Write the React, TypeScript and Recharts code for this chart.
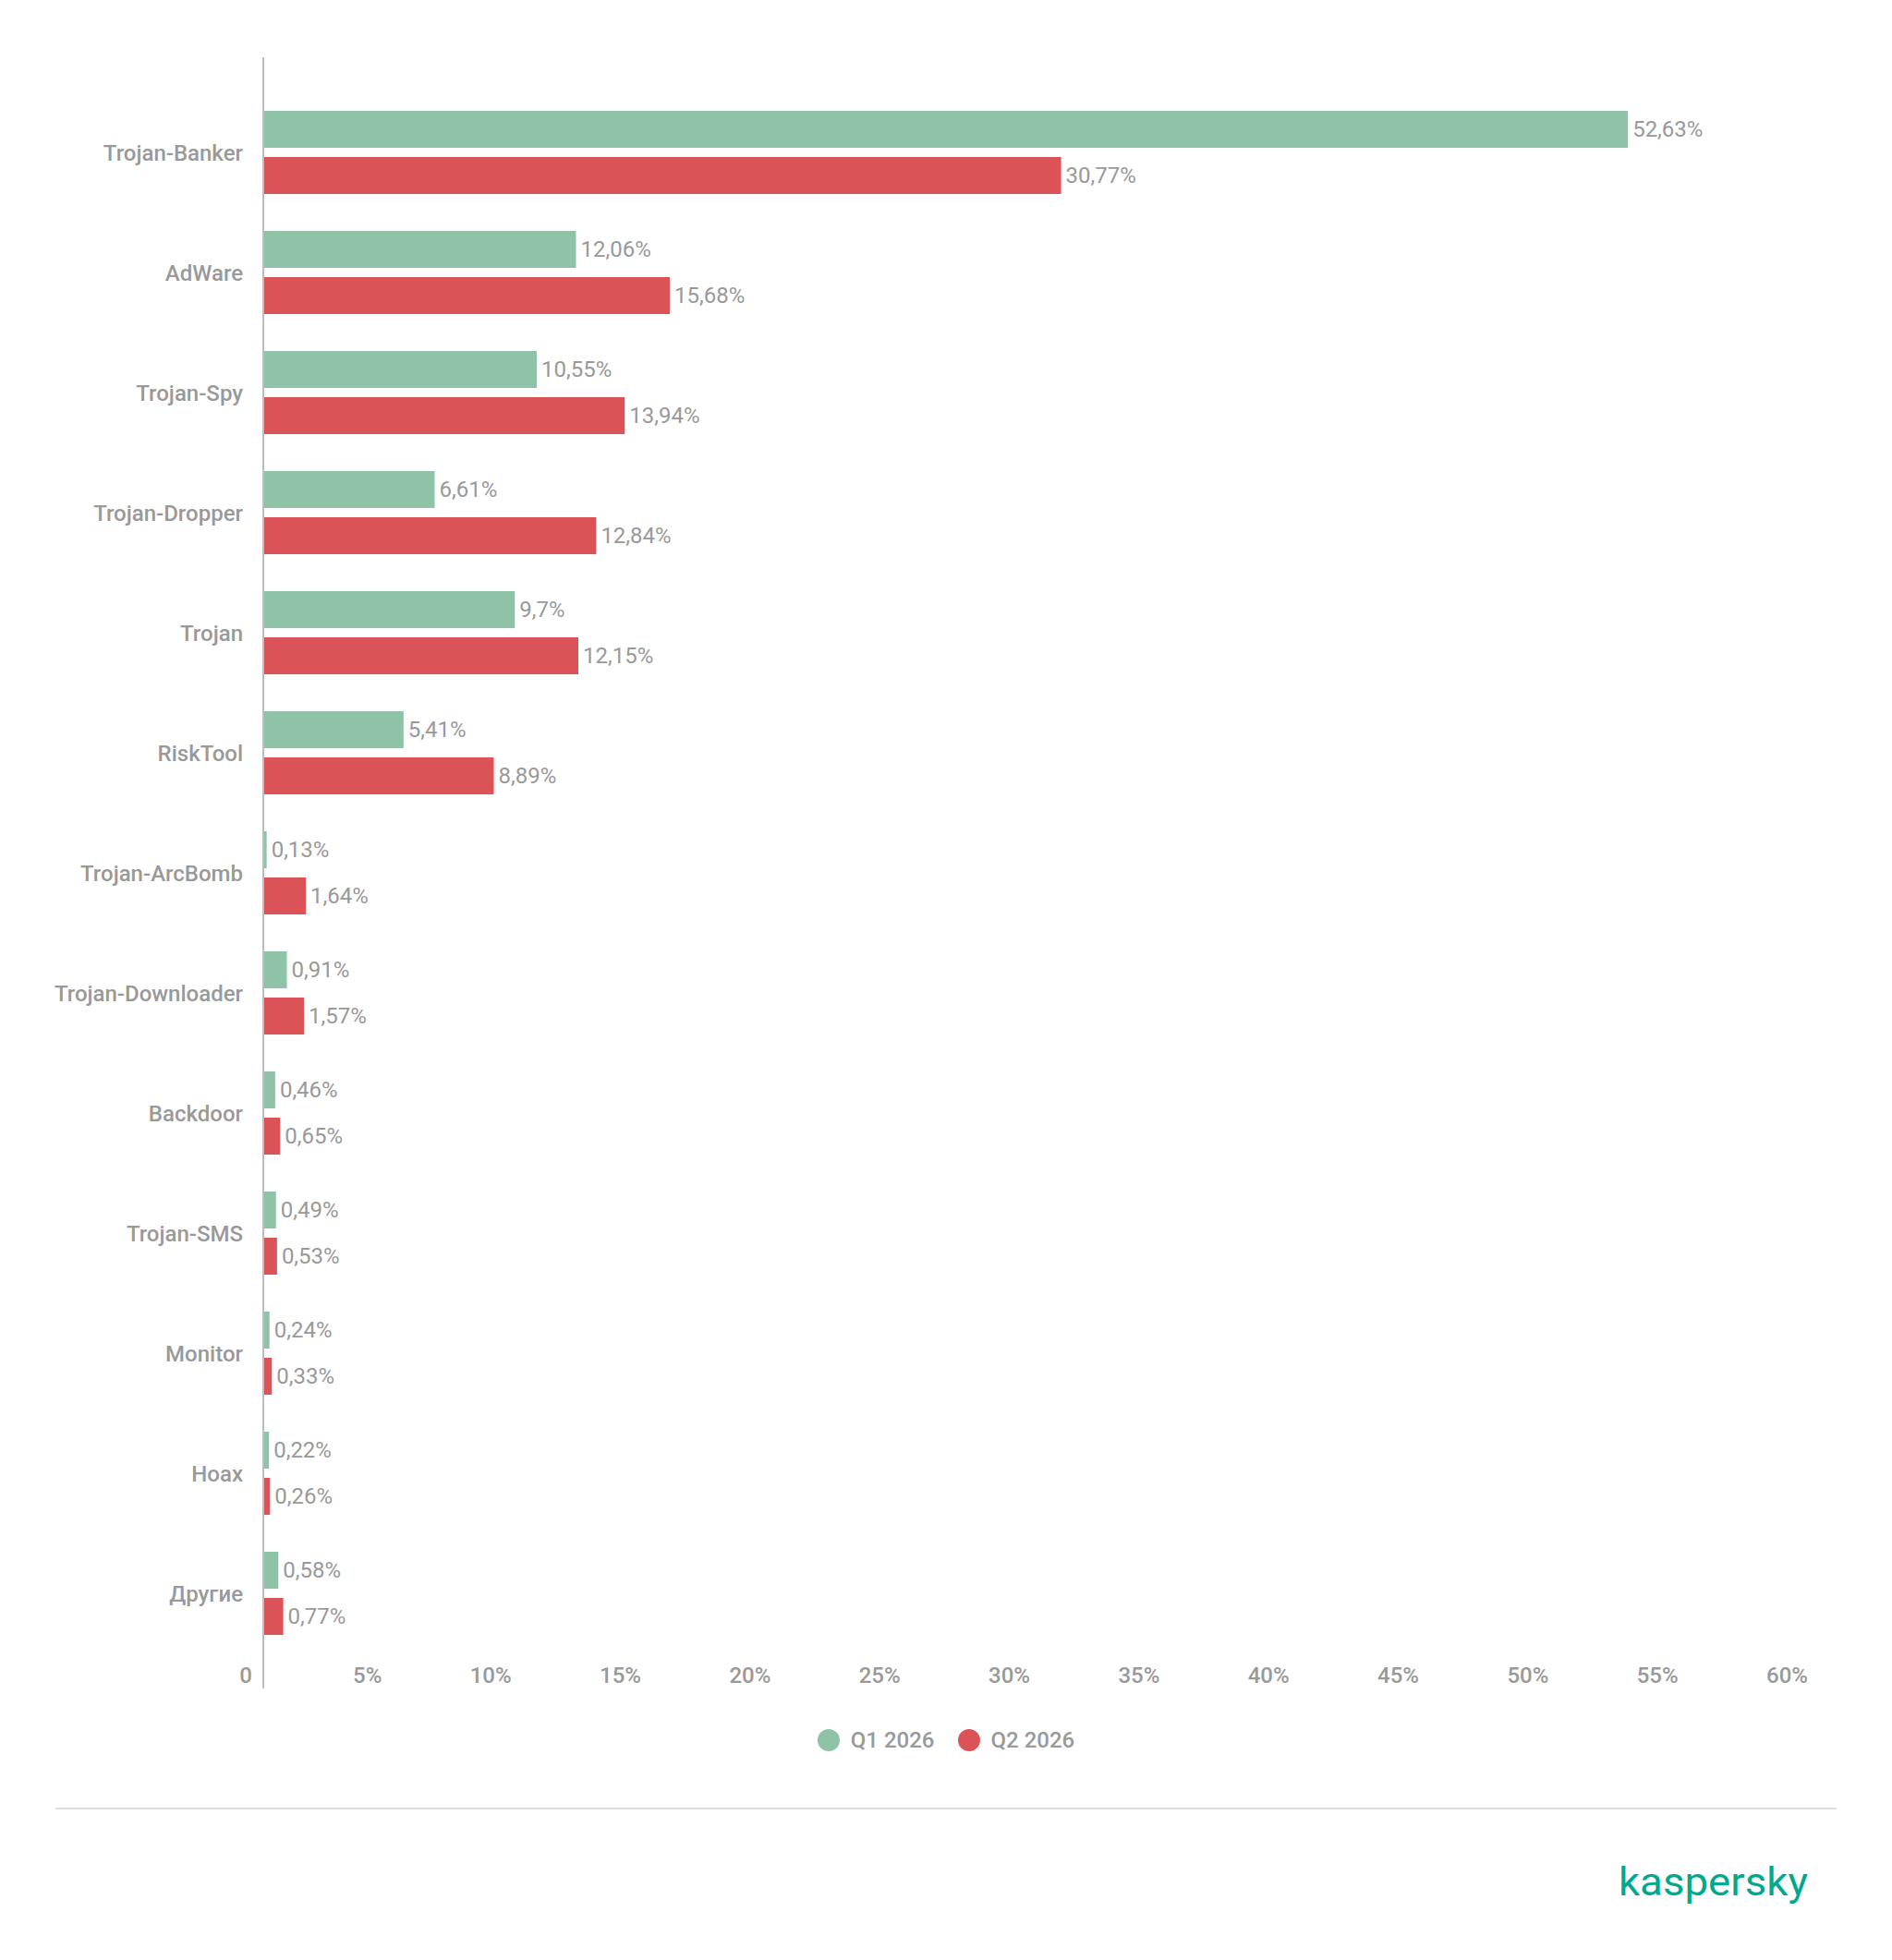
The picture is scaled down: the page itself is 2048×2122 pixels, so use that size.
import React from 'react';
import { BarChart, Bar, XAxis, YAxis, Legend, LabelList } from 'recharts';

const categories = [
  'Trojan-Banker',
  'AdWare',
  'Trojan-Spy',
  'Trojan-Dropper',
  'Trojan',
  'RiskTool',
  'Trojan-ArcBomb',
  'Trojan-Downloader',
  'Backdoor',
  'Trojan-SMS',
  'Monitor',
  'Hoax',
  'Другие',
];
const q1Values = [52.63, 12.06, 10.55, 6.61, 9.7, 5.41, 0.13, 0.91, 0.46, 0.49, 0.24, 0.22, 0.58];
const q2Values = [30.77, 15.68, 13.94, 12.84, 12.15, 8.89, 1.64, 1.57, 0.65, 0.53, 0.33, 0.26, 0.77];
const xTicks = [0, 5, 10, 15, 20, 25, 30, 35, 40, 45, 50, 55, 60];
const seriesNames = ['Q1 2026', 'Q2 2026'];
const seriesColors = ['#8fc3a8', '#dc5357'];

const data = categories.map((name, i) => ({ name, q1: q1Values[i], q2: q2Values[i] }));

const FONT = 'Roboto, "Noto Sans", sans-serif';
const GRAY = '#999999';

const fmtValue = (v: any) => `${String(v).replace('.', ',')}%`;

const XTick = (props: any) => {
  const { x, y, payload } = props;
  const v = payload.value;
  return (
    <text x={x - 12} y={y - 6} textAnchor="end" fill={GRAY} fontSize={24} fontWeight={500} fontFamily={FONT}>
      {v === 0 ? '0' : `${v}%`}
    </text>
  );
};

const YTick = (props: any) => {
  const { x, y, payload } = props;
  return (
    <text x={x - 22} y={y} dy="0.355em" textAnchor="end" fill={GRAY} fontSize={24} fontWeight={500} fontFamily={FONT}>
      {payload.value}
    </text>
  );
};

const LegendContent = () => (
  <div style={{ display: 'flex', justifyContent: 'center', alignItems: 'center', height: 40, fontFamily: FONT }}>
    {seriesNames.map((n, i) => (
      <div key={n} style={{ display: 'flex', alignItems: 'center', marginRight: i === 0 ? 25 : 0 }}>
        <span style={{ display: 'inline-block', width: 24, height: 24, borderRadius: 12, background: seriesColors[i], marginRight: 12 }} />
        <span style={{ fontSize: 24, fontWeight: 500, color: GRAY, lineHeight: '24px' }}>{n}</span>
      </div>
    ))}
  </div>
);

export default function App() {
  const W = 2032;
  const H = 2106;
  return (
    <div style={{ position: 'relative', width: W, height: H, fontFamily: FONT, background: '#fff' }}>
      <BarChart
        width={W}
        height={H}
        data={data}
        layout="vertical"
        margin={{ top: 54, right: 71, bottom: 210, left: 0 }}
        barSize={40}
        barGap={10}
        barCategoryGap={20}
      >
        <XAxis
          type="number"
          domain={[0, 60]}
          ticks={xTicks}
          interval={0}
          axisLine={false}
          tickLine={false}
          tickSize={0}
          tickMargin={0}
          height={36}
          tick={<XTick />}
        />
        <YAxis
          type="category"
          dataKey="name"
          width={277}
          padding={{ top: 38, bottom: 38 }}
          axisLine={{ stroke: '#bdbdbd', strokeWidth: 2 }}
          tickLine={false}
          tickSize={0}
          tickMargin={0}
          interval={0}
          tick={<YTick />}
        />
        <Legend
          verticalAlign="bottom"
          align="center"
          content={<LegendContent />}
          wrapperStyle={{ left: 0, width: W }}
        />
        <Bar dataKey="q1" name={seriesNames[0]} fill={seriesColors[0]} isAnimationActive={false}>
          <LabelList dataKey="q1" position="right" offset={5} dy={-1} formatter={fmtValue} fill={GRAY} fontSize={24} fontFamily={FONT} />
        </Bar>
        <Bar dataKey="q2" name={seriesNames[1]} fill={seriesColors[1]} isAnimationActive={false}>
          <LabelList dataKey="q2" position="right" offset={5} dy={-1} formatter={fmtValue} fill={GRAY} fontSize={24} fontFamily={FONT} />
        </Bar>
      </BarChart>
      <div style={{ position: 'absolute', left: 52, top: 1949, width: 1928, height: 2, background: '#dcdcdc' }} />
      <svg style={{ position: 'absolute', left: 1740, top: 2000 }} width={230} height={70}>
        <text x={4} y={44} textLength={205} lengthAdjust="spacingAndGlyphs" fill="#00a88e" fontSize={42} fontFamily={FONT}>
          kaspersky
        </text>
      </svg>
    </div>
  );
}
